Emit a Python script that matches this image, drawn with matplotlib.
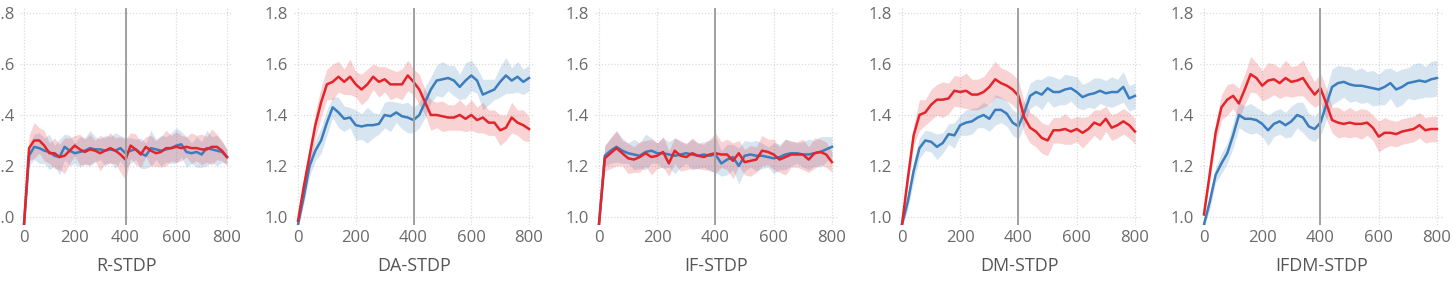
import numpy as np
import matplotlib
matplotlib.use("Agg")
import matplotlib.pyplot as plt

plt.rcParams['font.family'] = ['Open Sans', 'DejaVu Sans']

# training steps (one reading every 20 steps)
steps = np.arange(0, 801, 20)

titles = ["R-STDP", "DA-STDP", "IF-STDP", "DM-STDP", "IFDM-STDP"]

r_blue = [0.97, 1.24, 1.275, 1.27, 1.26, 1.255, 1.24, 1.235, 1.275, 1.26, 1.25, 1.255, 1.26, 1.27,
          1.265, 1.265, 1.26, 1.265, 1.26, 1.27, 1.25, 1.26, 1.265, 1.25, 1.24, 1.27, 1.265, 1.26,
          1.265, 1.27, 1.28, 1.285, 1.255, 1.25, 1.255, 1.245, 1.27, 1.265, 1.26, 1.255, 1.235]
r_red = [0.97, 1.27, 1.30, 1.30, 1.28, 1.25, 1.25, 1.235, 1.24, 1.26, 1.28, 1.265, 1.255, 1.265,
         1.26, 1.25, 1.26, 1.27, 1.26, 1.245, 1.225, 1.28, 1.265, 1.245, 1.275, 1.26, 1.25, 1.255,
         1.27, 1.27, 1.275, 1.27, 1.275, 1.27, 1.27, 1.265, 1.265, 1.275, 1.275, 1.26, 1.235]

da_blue = [0.97, 1.08, 1.20, 1.26, 1.30, 1.37, 1.43, 1.41, 1.385, 1.39, 1.36, 1.355, 1.36, 1.36,
           1.365, 1.40, 1.395, 1.41, 1.395, 1.39, 1.38, 1.40, 1.45, 1.50, 1.535, 1.54, 1.545, 1.535,
           1.51, 1.535, 1.555, 1.535, 1.48, 1.49, 1.50, 1.53, 1.555, 1.535, 1.55, 1.53, 1.545]
da_red = [0.985, 1.12, 1.24, 1.36, 1.45, 1.52, 1.53, 1.55, 1.53, 1.55, 1.52, 1.50, 1.52, 1.55,
          1.53, 1.54, 1.52, 1.52, 1.52, 1.555, 1.53, 1.50, 1.45, 1.40, 1.40, 1.395, 1.39, 1.39,
          1.40, 1.385, 1.40, 1.38, 1.39, 1.37, 1.37, 1.34, 1.35, 1.39, 1.37, 1.36, 1.345]

if_blue = [0.97, 1.24, 1.26, 1.275, 1.26, 1.25, 1.245, 1.24, 1.255, 1.26, 1.25, 1.25, 1.245, 1.24,
           1.245, 1.25, 1.245, 1.24, 1.245, 1.24, 1.245, 1.21, 1.225, 1.235, 1.20, 1.24, 1.245, 1.24,
           1.24, 1.235, 1.23, 1.235, 1.245, 1.25, 1.25, 1.245, 1.245, 1.25, 1.255, 1.265, 1.275]
if_red = [0.97, 1.23, 1.25, 1.27, 1.25, 1.23, 1.225, 1.235, 1.25, 1.235, 1.24, 1.255, 1.21, 1.26,
          1.24, 1.235, 1.25, 1.24, 1.235, 1.245, 1.25, 1.245, 1.245, 1.22, 1.25, 1.215, 1.22, 1.225,
          1.26, 1.255, 1.245, 1.225, 1.235, 1.245, 1.245, 1.245, 1.225, 1.25, 1.255, 1.245, 1.215]

dm_blue = [0.97, 1.06, 1.18, 1.27, 1.30, 1.295, 1.275, 1.29, 1.325, 1.32, 1.36, 1.37, 1.375, 1.39,
           1.40, 1.385, 1.42, 1.42, 1.405, 1.37, 1.355, 1.41, 1.475, 1.49, 1.48, 1.505, 1.49, 1.49,
           1.50, 1.505, 1.49, 1.47, 1.48, 1.485, 1.495, 1.485, 1.49, 1.49, 1.51, 1.465, 1.475]
dm_red = [0.97, 1.15, 1.32, 1.40, 1.41, 1.44, 1.46, 1.46, 1.465, 1.495, 1.49, 1.495, 1.48, 1.48,
          1.49, 1.51, 1.54, 1.525, 1.515, 1.50, 1.475, 1.39, 1.35, 1.335, 1.31, 1.30, 1.34, 1.34,
          1.345, 1.335, 1.345, 1.33, 1.345, 1.37, 1.36, 1.385, 1.35, 1.36, 1.375, 1.36, 1.335]

ifdm_blue = [0.97, 1.06, 1.165, 1.21, 1.25, 1.32, 1.40, 1.385, 1.385, 1.38, 1.365, 1.34, 1.365,
             1.375, 1.36, 1.375, 1.40, 1.39, 1.355, 1.345, 1.37, 1.44, 1.51, 1.525, 1.53, 1.52,
             1.515, 1.515, 1.51, 1.505, 1.50, 1.51, 1.525, 1.50, 1.51, 1.525, 1.53, 1.535, 1.53,
             1.54, 1.545]
ifdm_red = [1.01, 1.17, 1.33, 1.43, 1.46, 1.475, 1.445, 1.50, 1.56, 1.545, 1.515, 1.535, 1.54,
            1.525, 1.545, 1.53, 1.535, 1.545, 1.51, 1.48, 1.505, 1.445, 1.38, 1.37, 1.365, 1.37,
            1.365, 1.365, 1.37, 1.35, 1.315, 1.33, 1.33, 1.325, 1.335, 1.34, 1.345, 1.36, 1.34,
            1.345, 1.345]

# half width of the shaded band around each curve
r_blue_sd = [0.01, 0.04, 0.05, 0.06, 0.05, 0.07, 0.04, 0.07, 0.05, 0.06, 0.04, 0.06, 0.05, 0.07,
             0.05, 0.04, 0.06, 0.05, 0.07, 0.05, 0.06, 0.05, 0.04, 0.06, 0.05, 0.07, 0.04, 0.06,
             0.05, 0.06, 0.07, 0.05, 0.06, 0.04, 0.06, 0.05, 0.07, 0.05, 0.06, 0.04, 0.03]
r_red_sd = [0.01, 0.05, 0.07, 0.05, 0.06, 0.04, 0.06, 0.05, 0.07, 0.05, 0.04, 0.06, 0.05, 0.06,
            0.04, 0.07, 0.05, 0.06, 0.05, 0.07, 0.08, 0.05, 0.06, 0.05, 0.04, 0.06, 0.05, 0.06,
            0.07, 0.05, 0.06, 0.05, 0.04, 0.06, 0.05, 0.06, 0.05, 0.07, 0.05, 0.04, 0.03]

da_blue_sd = [0.01, 0.03, 0.04, 0.04, 0.05, 0.05, 0.04, 0.06, 0.05, 0.04, 0.06, 0.05, 0.07, 0.05,
              0.04, 0.05, 0.06, 0.04, 0.05, 0.06, 0.05, 0.05, 0.06, 0.05, 0.06, 0.07, 0.05, 0.06,
              0.05, 0.07, 0.06, 0.05, 0.06, 0.05, 0.04, 0.06, 0.07, 0.05, 0.06, 0.05, 0.05]
da_red_sd = [0.01, 0.03, 0.04, 0.05, 0.06, 0.06, 0.07, 0.06, 0.05, 0.07, 0.05, 0.06, 0.06, 0.05,
             0.06, 0.05, 0.06, 0.05, 0.06, 0.06, 0.05, 0.06, 0.05, 0.06, 0.05, 0.06, 0.05, 0.05,
             0.06, 0.05, 0.06, 0.05, 0.06, 0.05, 0.05, 0.06, 0.05, 0.06, 0.05, 0.06, 0.05]

if_blue_sd = [0.01, 0.04, 0.05, 0.06, 0.05, 0.04, 0.06, 0.05, 0.07, 0.05, 0.04, 0.06, 0.05, 0.07,
              0.05, 0.04, 0.06, 0.05, 0.05, 0.06, 0.07, 0.05, 0.06, 0.05, 0.07, 0.06, 0.05, 0.06,
              0.05, 0.04, 0.06, 0.05, 0.06, 0.05, 0.04, 0.05, 0.06, 0.05, 0.06, 0.05, 0.04]
if_red_sd = [0.01, 0.05, 0.06, 0.07, 0.05, 0.06, 0.05, 0.06, 0.05, 0.07, 0.05, 0.06, 0.05, 0.05,
             0.06, 0.05, 0.06, 0.05, 0.05, 0.06, 0.08, 0.05, 0.06, 0.07, 0.05, 0.05, 0.06, 0.05,
             0.06, 0.05, 0.06, 0.05, 0.07, 0.05, 0.05, 0.06, 0.05, 0.06, 0.05, 0.05, 0.04]

dm_blue_sd = [0.01, 0.03, 0.04, 0.04, 0.04, 0.04, 0.05, 0.04, 0.04, 0.05, 0.04, 0.05, 0.05, 0.04,
              0.05, 0.05, 0.06, 0.05, 0.05, 0.05, 0.05, 0.05, 0.05, 0.05, 0.06, 0.05, 0.06, 0.05,
              0.06, 0.05, 0.06, 0.05, 0.05, 0.06, 0.05, 0.05, 0.06, 0.05, 0.06, 0.05, 0.05]
dm_red_sd = [0.01, 0.03, 0.04, 0.06, 0.05, 0.06, 0.06, 0.07, 0.06, 0.06, 0.06, 0.07, 0.06, 0.06,
             0.06, 0.07, 0.07, 0.06, 0.06, 0.06, 0.06, 0.06, 0.06, 0.06, 0.06, 0.06, 0.05, 0.05,
             0.06, 0.05, 0.05, 0.06, 0.05, 0.05, 0.06, 0.05, 0.05, 0.05, 0.05, 0.05, 0.05]

ifdm_blue_sd = [0.01, 0.03, 0.03, 0.04, 0.04, 0.05, 0.05, 0.05, 0.06, 0.05, 0.05, 0.06, 0.05,
                0.05, 0.05, 0.06, 0.05, 0.06, 0.05, 0.05, 0.05, 0.06, 0.07, 0.07, 0.06, 0.07,
                0.06, 0.07, 0.06, 0.07, 0.06, 0.07, 0.06, 0.07, 0.07, 0.06, 0.07, 0.07, 0.06,
                0.07, 0.07]
ifdm_red_sd = [0.01, 0.03, 0.04, 0.05, 0.06, 0.05, 0.06, 0.06, 0.07, 0.06, 0.06, 0.07, 0.06, 0.06,
               0.07, 0.06, 0.06, 0.07, 0.06, 0.05, 0.06, 0.06, 0.05, 0.06, 0.05, 0.06, 0.05, 0.06,
               0.05, 0.05, 0.06, 0.06, 0.05, 0.05, 0.05, 0.05, 0.05, 0.05, 0.05, 0.05, 0.05]

blue_series = [r_blue, da_blue, if_blue, dm_blue, ifdm_blue]
red_series = [r_red, da_red, if_red, dm_red, ifdm_red]
blue_spread = [r_blue_sd, da_blue_sd, if_blue_sd, dm_blue_sd, ifdm_blue_sd]
red_spread = [r_red_sd, da_red_sd, if_red_sd, dm_red_sd, ifdm_red_sd]

BLUE = '#3b7dbd'
RED = '#e3242b'
W, H = 1452, 282

# axes boxes in pixels (left, right) -- the first panel is clipped on the left
panel_px = [(20.2, 232.1), (293.7, 534.8), (594.6, 837.8), (897.6, 1140.8), (1199.6, 1442.8)]
bottom_px, top_px = 224.6, 7.9


def draw_panel(ax, title, blue, red, blue_sd, red_sd):
    blue = np.array(blue)
    red = np.array(red)
    blue_sd = np.array(blue_sd)
    red_sd = np.array(red_sd)

    ax.fill_between(steps, blue - blue_sd, blue + blue_sd, color=BLUE, alpha=0.2, lw=0)
    ax.fill_between(steps, red - red_sd, red + red_sd, color=RED, alpha=0.2, lw=0)
    ax.plot(steps, blue, color=BLUE, lw=1.8)
    ax.plot(steps, red, color=RED, lw=1.8)
    ax.axvline(400, color='#a0a0a0', lw=1.4, zorder=3)

    ax.set_xlim(-15, 820)
    ax.set_ylim(0.97, 1.82)
    ax.set_xticks([0, 200, 400, 600, 800])
    ax.set_yticks([1.0, 1.2, 1.4, 1.6, 1.8])
    ax.set_yticklabels(["1.0", "1.2", "1.4", "1.6", "1.8"])
    ax.grid(True, color='#dcdcdc', lw=0.9, ls=(0, (1, 1.5)))
    ax.set_axisbelow(True)
    for spine in ax.spines.values():
        spine.set_visible(False)
    ax.tick_params(length=0, labelsize=12, labelcolor='#6a6a6a', pad=4)
    ax.set_xlabel(title, fontsize=13, color='#555555', labelpad=8)


def main():
    fig = plt.figure(figsize=(W / 100, H / 100), dpi=100)
    for i, (left, right) in enumerate(panel_px):
        ax = fig.add_axes([left / W, 1 - bottom_px / H, (right - left) / W, (bottom_px - top_px) / H])
        draw_panel(ax, titles[i], blue_series[i], red_series[i], blue_spread[i], red_spread[i])
    fig.savefig("out.png", dpi=100)


if __name__ == '__main__':
    main()
